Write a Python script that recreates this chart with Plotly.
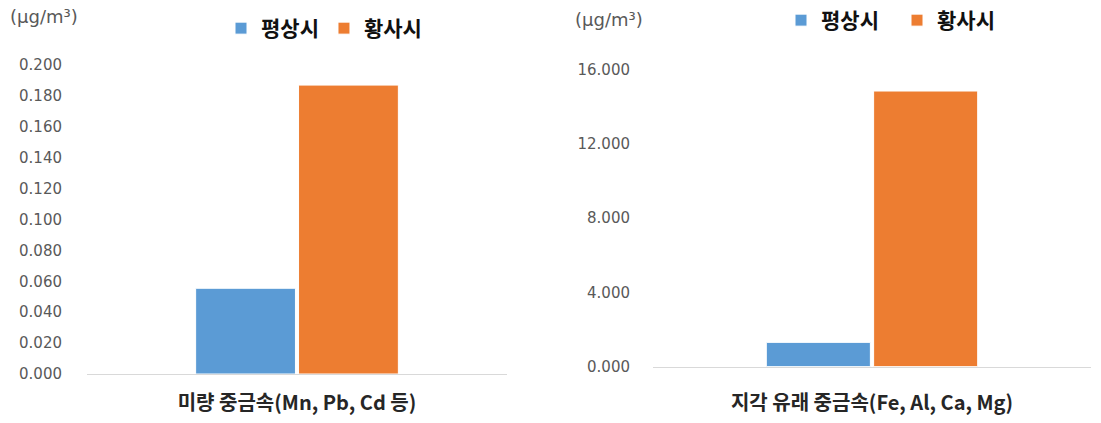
import plotly.graph_objects as go

categories_left = ["미량 중금속(Mn, Pb, Cd 등)"]
categories_right = ["지각 유래 중금속(Fe, Al, Ca, Mg)"]
series_names = ["평상시", "황사시"]
left_normal = [0.0555]
left_dust = [0.187]
right_normal = [1.30]
right_dust = [14.84]
left_ticks = [0.0, 0.02, 0.04, 0.06, 0.08, 0.10, 0.12, 0.14, 0.16, 0.18, 0.20]
right_ticks = [0, 4, 8, 12, 16]
unit_label = "(μg/m³)"

BLUE = "#5B9BD5"
ORANGE = "#ED7D31"
FONT = "Noto Sans CJK KR"
NUMFONT = "DejaVu Sans"
W, H = 1101, 423

fig = go.Figure()
fig.add_trace(go.Bar(x=categories_left, y=left_normal, name=series_names[0], marker=dict(color=BLUE, line=dict(color="white", width=1)),
                     xaxis="x", yaxis="y", legend="legend"))
fig.add_trace(go.Bar(x=categories_left, y=left_dust, name=series_names[1], marker=dict(color=ORANGE, line=dict(color="white", width=1)),
                     xaxis="x", yaxis="y", legend="legend"))
fig.add_trace(go.Bar(x=categories_right, y=right_normal, name=series_names[0], marker=dict(color=BLUE, line=dict(color="white", width=1)),
                     xaxis="x2", yaxis="y2", legend="legend2"))
fig.add_trace(go.Bar(x=categories_right, y=right_dust, name=series_names[1], marker=dict(color=ORANGE, line=dict(color="white", width=1)),
                     xaxis="x2", yaxis="y2", legend="legend2"))

tickfont = dict(family=NUMFONT, size=15, color="#595959")
titlefont = dict(family=FONT, size=20, color="#262626", weight="bold")
legfont = dict(family=FONT, size=21, color="#111111", weight="bold")

def px_x(p):
    return p / W

def px_y(p):
    return (H - p) / H

fig.update_layout(
    width=W, height=H, margin=dict(l=0, r=0, t=0, b=0, autoexpand=False),
    paper_bgcolor="white", plot_bgcolor="white",
    barmode="group", bargap=0.51, bargroupgap=0.03,
    font=dict(family=FONT),
    xaxis=dict(domain=[px_x(87), px_x(507)], anchor="y", range=[-0.5, 0.5], showline=True, linecolor="#D9D9D9", linewidth=1,
               showgrid=False, showticklabels=False, ticks="", automargin=False,
               title=dict(text=categories_left[0], font=titlefont, standoff=21)),
    yaxis=dict(domain=[px_y(374), px_y(65)], anchor="x", range=[0, 0.2], tickvals=left_ticks, tickformat=".3f",
               showgrid=False, zeroline=False, showline=False, tickfont=tickfont, ticklabelstandoff=24, automargin=False),
    xaxis2=dict(domain=[px_x(653), px_x(1091)], anchor="y2", range=[-0.5, 0.5], showline=True, linecolor="#D9D9D9", linewidth=1,
                showgrid=False, showticklabels=False, ticks="", automargin=False,
                title=dict(text=categories_right[0], font=titlefont, standoff=29)),
    yaxis2=dict(domain=[px_y(366.5), px_y(69.5)], anchor="x2", range=[0, 16], tickvals=right_ticks, tickformat=".3f",
                showgrid=False, zeroline=False, showline=False, tickfont=tickfont, ticklabelstandoff=22, automargin=False),
    legend=dict(orientation="h", x=px_x(221), y=px_y(8), xanchor="left", yanchor="top",
                font=legfont, itemwidth=30, bgcolor="rgba(0,0,0,0)"),
    legend2=dict(orientation="h", x=px_x(781), y=1, xanchor="left", yanchor="top",
                 font=legfont, itemwidth=30, entrywidth=71, entrywidthmode="pixels", bgcolor="rgba(0,0,0,0)"),
    annotations=[
        dict(text=unit_label, x=px_x(8), y=px_y(17), xref="paper", yref="paper", xanchor="left", yanchor="middle",
             showarrow=False, font=dict(family=NUMFONT, size=18, color="#595959")),
        dict(text=unit_label, x=px_x(573), y=px_y(20), xref="paper", yref="paper", xanchor="left", yanchor="middle",
             showarrow=False, font=dict(family=NUMFONT, size=18, color="#595959")),
    ],
)

fig.write_html("out.html")
